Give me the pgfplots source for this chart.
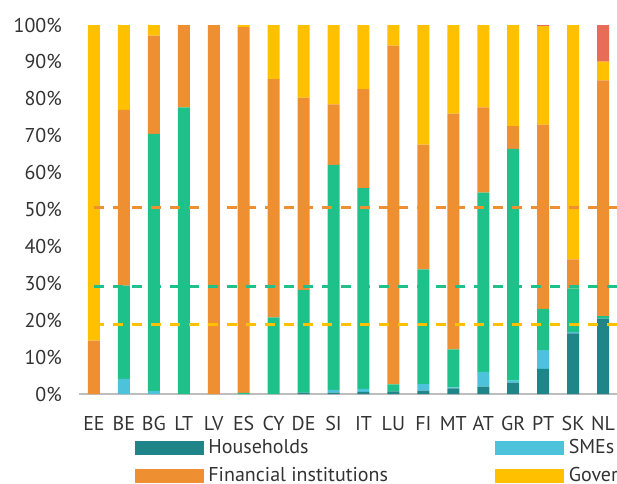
\documentclass[border=0pt]{standalone}
\usepackage{fontspec}
\setmainfont{PT Sans}
\usepackage{pgfplots}
\usepackage{pgfplotstable}
\pgfplotsset{compat=1.18}
\definecolor{hh}{HTML}{1F8589}
\definecolor{sme}{HTML}{4CC3DB}
\definecolor{nfc}{HTML}{1FC18A}
\definecolor{fin}{HTML}{EE8F32}
\definecolor{gov}{HTML}{FFC000}
\definecolor{oth}{HTML}{E86D57}
\definecolor{txt}{HTML}{333333}
\definecolor{axgray}{HTML}{BDBDBD}

\pgfplotstableread{
idx HH SME NFC FIN GOV OTH
0  0    0    0    14.5 85.5 0
1  0    4.1  25.3 47.6 23.0 0
2  0    0.8  69.7 26.6 2.9  0
3  0    0    77.7 22.3 0    0
4  0    0    0    100  0    0
5  0    0    0.3  99.1 0.6  0
6  0    0    20.8 64.5 14.7 0
7  0.4  0    27.8 52.1 19.7 0
8  0.4  0.7  61.0 16.4 21.5 0
9  0.6  0.8  54.4 26.8 17.4 0
10 0.7  0    1.9  91.8 5.6  0
11 0.9  1.8  31.1 33.8 32.4 0
12 1.5  0.3  10.3 63.9 24.0 0
13 2.0  4.0  48.6 23.1 22.3 0
14 3.1  0.5  62.8 6.2  27.4 0
15 6.8  5.1  11.2 49.9 26.7 0.3
16 16.4 0.4  11.8 7.9  63.5 0
17 20.4 0    0.7  63.9 5.1  9.9
}\data

\pgfplotstableread{
x y
0 50.5
17.5 50.5
}\avgfin
\pgfplotstableread{
x y
0 29.2
17.5 29.2
}\avgnfc
\pgfplotstableread{
x y
0 18.9
17.5 18.9
}\avggov

\begin{document}
\begin{tikzpicture}
\clip (-79pt,-89pt) rectangle (538pt,394pt);
\begin{axis}[
  at={(0pt,0pt)}, anchor=south west,
  scale only axis, width=539pt, height=369pt,
  ybar stacked, bar width=12pt,
  xmin=-0.5, xmax=17.5, ymin=0, ymax=100,
  xtick={0,...,17},
  xticklabels={EE,BE,BG,LT,LV,ES,CY,DE,SI,IT,LU,FI,MT,AT,GR,PT,SK,NL},
  ytick={0,10,...,100},
  yticklabel={\pgfmathprintnumber{\tick}\%},
  /pgf/number format/assume math mode=true,
  axis x line*=bottom, axis y line*=left,
  x axis line style={draw=axgray, line width=2pt, -},
  y axis line style={draw=none},
  major tick length=0pt,
  tick style={draw=none},
  xticklabel style={font=\fontsize{20}{20}\selectfont, text=txt, inner sep=0pt, anchor=north, yshift=-22pt},
  yticklabel style={font=\fontsize{20}{20}\selectfont, text=txt, inner sep=0pt, anchor=east, xshift=-17pt},
  clip=false,
]
\addplot[fill=hh, draw=none] table[x=idx, y=HH] {\data};
\addplot[fill=sme, draw=none] table[x=idx, y=SME] {\data};
\addplot[fill=nfc, draw=none] table[x=idx, y=NFC] {\data};
\addplot[fill=fin, draw=none] table[x=idx, y=FIN] {\data};
\addplot[fill=gov, draw=none] table[x=idx, y=GOV] {\data};
\addplot[fill=oth, draw=none] table[x=idx, y=OTH] {\data};
\end{axis}
\begin{axis}[
  at={(0pt,0pt)}, anchor=south west,
  scale only axis, width=539pt, height=369pt,
  xmin=-0.5, xmax=17.5, ymin=0, ymax=100,
  hide axis, clip=false,
  legend columns=2,
  legend style={at={(0.1039,-0.1220)}, anchor=north west, draw=none, fill=none,
    inner sep=0pt, outer sep=0pt, column sep=0pt, row sep=10pt,
    nodes={inner sep=0pt, anchor=west, text height=14pt, text depth=4pt,
      font=\fontsize{20}{20}\selectfont, text=txt}},
]
\addplot[fin, line width=2.5pt, dash pattern=on 10pt off 9pt, forget plot] table {\avgfin};
\addplot[nfc, line width=2.5pt, dash pattern=on 10pt off 9pt, forget plot] table {\avgnfc};
\addplot[gov, line width=2.5pt, dash pattern=on 10pt off 9pt, forget plot] table {\avggov};
\addlegendimage{legend image code/.code={\fill[hh] (0pt,-6.5pt) rectangle (68pt,6.5pt);}}
\addlegendentry{\makebox[292pt][l]{\hspace{5pt}Households}}
\addlegendimage{legend image code/.code={\fill[sme] (0pt,-6.5pt) rectangle (68pt,6.5pt);}}
\addlegendentry{\makebox[292pt][l]{\hspace{5pt}SMEs}}
\addlegendimage{legend image code/.code={\fill[fin] (0pt,-6.5pt) rectangle (68pt,6.5pt);}}
\addlegendentry{\makebox[292pt][l]{\hspace{5pt}Financial institutions}}
\addlegendimage{legend image code/.code={\fill[gov] (0pt,-6.5pt) rectangle (68pt,6.5pt);}}
\addlegendentry{\makebox[292pt][l]{\hspace{5pt}Government}}
\end{axis}
\end{tikzpicture}
\end{document}
